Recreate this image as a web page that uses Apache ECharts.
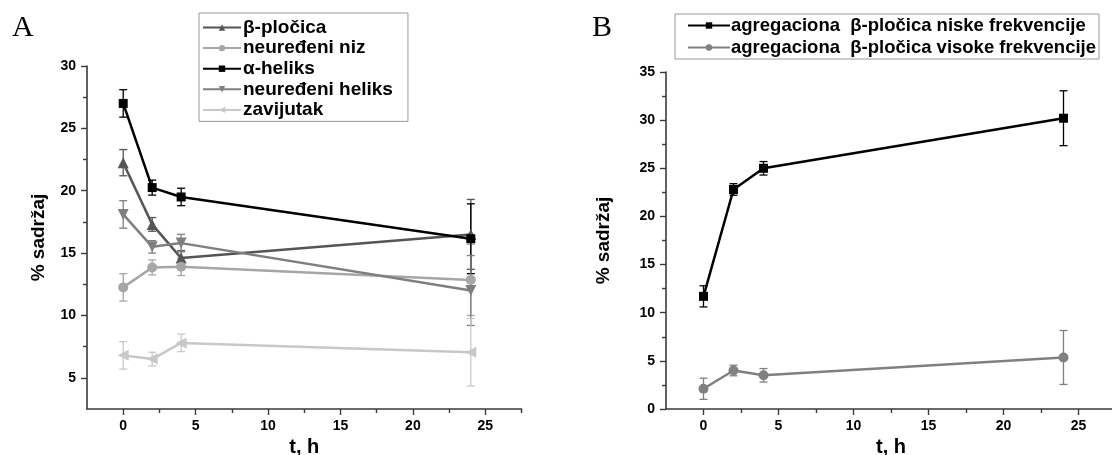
<!DOCTYPE html>
<html><head><meta charset="utf-8">
<script src="https://cdn.jsdelivr.net/npm/echarts@6/dist/echarts.min.js"></script>
<style>html,body{margin:0;padding:0;background:#fff}#c{width:1112px;height:455px}</style>
</head><body><div id="c"></div>
<script>
// ---- Data ----
const tHours = [0, 2, 4, 24];
// Panel A
const betaSheet     = [22.25, 17.3, 14.6, 16.5];
const betaSheetErr  = [1.05, 0.55, 0.6, 2.8];
const randomCoil    = [12.25, 13.85, 13.9, 12.85];
const randomCoilErr = [1.1, 0.6, 0.7, 2.85];
const alphaHelix    = [27.0, 20.25, 19.5, 16.15];
const alphaHelixErr = [1.1, 0.6, 0.7, 2.8];
const disHelix      = [18.1, 15.5, 15.8, 12.0];
const disHelixErr   = [1.1, 0.5, 0.7, 2.8];
const turn          = [6.8, 6.5, 7.8, 7.05];
const turnErr       = [1.1, 0.55, 0.7, 2.7];
// Panel B
const aggLow        = [11.7, 22.8, 25.0, 30.2];
const aggLowErr     = [1.1, 0.6, 0.7, 2.85];
const aggHigh       = [2.1, 4.0, 3.5, 5.35];
const aggHighErr    = [1.1, 0.55, 0.7, 2.8];
// Tick values
const xMajor = [0, 5, 10, 15, 20, 25];
const xMinor = [2.5, 7.5, 12.5, 17.5, 22.5, 27.5];
const yMajorA = [5, 10, 15, 20, 25, 30];
const yMinorA = [7.5, 12.5, 17.5, 22.5, 27.5];
const yMajorB = [0, 5, 10, 15, 20, 25, 30, 35];
const yMinorB = [2.5, 7.5, 12.5, 17.5, 22.5, 27.5, 32.5];

const namesA = ['β-pločica', 'neuređeni niz', 'α-heliks', 'neuređeni heliks', 'zavijutak'];
const namesB = ['agregaciona  β-pločica niske frekvencije', 'agregaciona  β-pločica visoke frekvencije'];

const FONT = '"Liberation Sans", Arial, sans-serif';
const AX = '#3a3a3a';
const GRIDS = [
  {left: 87, top: 66, width: 434.5, height: 343},
  {left: 666, top: 72, width: 450, height: 337}
];

function pairs(v){ return tHours.map((t,i)=>[t, v[i]]); }
function errData(v, e){ return tHours.map((t,i)=>[t, v[i]-e[i], v[i]+e[i]]); }

function errSeries(v, e, color, gi){
  return {
    type: 'custom', xAxisIndex: gi*2, yAxisIndex: gi*2, z: 1, silent: true,
    data: errData(v, e),
    encode: {x: 0, y: [1, 2]},
    renderItem: function(params, api){
      const x = api.value(0), lo = api.value(1), hi = api.value(2);
      const p1 = api.coord([x, hi]), p2 = api.coord([x, lo]);
      const w = 4;
      const st = {stroke: color, lineWidth: 1.3};
      return {type: 'group', children: [
        {type: 'line', shape: {x1: p1[0], y1: p1[1], x2: p2[0], y2: p2[1]}, style: st},
        {type: 'line', shape: {x1: p1[0]-w, y1: p1[1], x2: p1[0]+w, y2: p1[1]}, style: st},
        {type: 'line', shape: {x1: p2[0]-w, y1: p2[1], x2: p2[0]+w, y2: p2[1]}, style: st}
      ]};
    }
  };
}
function lineSeries(name, v, color, symbol, rot, size, gi){
  return {
    name, type: 'line', xAxisIndex: gi*2, yAxisIndex: gi*2, z: 3,
    data: pairs(v), symbol, symbolRotate: rot, symbolSize: size,
    showSymbol: true, animation: false,
    lineStyle: {color, width: 2.5},
    itemStyle: {color, borderWidth: 0}
  };
}

function xAxes(gi, min, max){
  return [
    {gridIndex: gi, type: 'value', min, max, position: 'bottom',
     axisLine: {show: true, onZero: false, lineStyle: {color: AX, width: 1.6}},
     axisTick: {show: true, length: 6, customValues: xMajor, lineStyle: {color: AX, width: 1.4}},
     axisLabel: {show: true, customValues: xMajor, margin: 10, color: '#000', fontFamily: FONT, fontWeight: 'bold', fontSize: 14},
     splitLine: {show: false},
     name: 't, h', nameLocation: 'middle', nameGap: 28,
     nameTextStyle: {color: '#000', fontFamily: FONT, fontWeight: 'bold', fontSize: 20}},
    // minor ticks: placed at top then shifted down onto the bottom edge
    {gridIndex: gi, type: 'value', min, max, position: 'top', offset: -GRIDS[gi].height,
     axisLine: {show: false, onZero: false},
     axisTick: {show: true, inside: true, length: 4, customValues: xMinor, lineStyle: {color: AX, width: 1.4}},
     axisLabel: {show: false}, splitLine: {show: false}}
  ];
}
function yAxes(gi, min, max, major, minor, gap){
  return [
    {gridIndex: gi, type: 'value', min, max, position: 'left',
     axisLine: {show: true, onZero: false, lineStyle: {color: AX, width: 1.6}},
     axisTick: {show: true, length: 6, customValues: major, lineStyle: {color: AX, width: 1.4}},
     axisLabel: {show: true, customValues: major, margin: 11, color: '#000', fontFamily: FONT, fontWeight: 'bold', fontSize: 14},
     splitLine: {show: false},
     name: '% sadržaj', nameLocation: 'middle', nameGap: gap, nameRotate: 90,
     nameTextStyle: {color: '#000', fontFamily: FONT, fontWeight: 'bold', fontSize: 19}},
    {gridIndex: gi, type: 'value', min, max, position: 'right', offset: -GRIDS[gi].width,
     axisLine: {show: false, onZero: false},
     axisTick: {show: true, inside: true, length: 4, customValues: minor, lineStyle: {color: AX, width: 1.4}},
     axisLabel: {show: false}, splitLine: {show: false}}
  ];
}

const cA = ['#555555', '#a6a6a6', '#000000', '#7f7f7f', '#c8c8c8'];
const cB = ['#000000', '#808080'];

const chart = echarts.init(document.getElementById('c'), null, {renderer: 'canvas'});
chart.setOption({
  animation: false,
  backgroundColor: '#fff',
  title: [
    {text: 'A', left: 7, top: 8, textStyle: {fontFamily: '"Liberation Serif", "Times New Roman", serif', fontWeight: 'normal', fontSize: 30, color: '#000'}},
    {text: 'B', left: 587, top: 8, textStyle: {fontFamily: '"Liberation Serif", "Times New Roman", serif', fontWeight: 'normal', fontSize: 30, color: '#000'}}
  ],
  grid: GRIDS.map(g => Object.assign({outerBoundsMode: 'none', containLabel: false}, g)),
  xAxis: [...xAxes(0, -2.5, 27.5), ...xAxes(1, -2.5, 27.5)],
  yAxis: [...yAxes(0, 2.5, 30, yMajorA, yMinorA, 39), ...yAxes(1, 0, 35, yMajorB, yMinorB, 53)],
  legend: [
    {data: namesA, orient: 'vertical', left: 199, top: 13, padding: [5, 15, 2, 3],
     itemGap: 1.6, itemWidth: 38, itemHeight: 8,
     borderColor: '#999', borderWidth: 1, selectedMode: false,
     textStyle: {fontFamily: FONT, fontWeight: 'bold', fontSize: 19, color: '#000', lineHeight: 19, padding: [0,0,0,-3]}},
    {data: namesB, orient: 'vertical', left: 675, top: 14, padding: [2, 3, 2, 12],
     itemGap: 3, itemWidth: 42, itemHeight: 8,
     borderColor: '#999', borderWidth: 1, selectedMode: false,
     textStyle: {fontFamily: FONT, fontWeight: 'bold', fontSize: 18.5, color: '#000', lineHeight: 19, padding: [0,0,0,-4]}}
  ],
  series: [
    errSeries(betaSheet, betaSheetErr, cA[0], 0),
    errSeries(randomCoil, randomCoilErr, cA[1], 0),
    errSeries(alphaHelix, alphaHelixErr, cA[2], 0),
    errSeries(disHelix, disHelixErr, cA[3], 0),
    errSeries(turn, turnErr, cA[4], 0),
    lineSeries(namesA[0], betaSheet, cA[0], 'triangle', 0, 11, 0),
    lineSeries(namesA[1], randomCoil, cA[1], 'circle', 0, 10, 0),
    lineSeries(namesA[2], alphaHelix, cA[2], 'rect', 0, 9, 0),
    lineSeries(namesA[3], disHelix, cA[3], 'triangle', 180, 11, 0),
    lineSeries(namesA[4], turn, cA[4], 'triangle', 90, 11, 0),
    errSeries(aggLow, aggLowErr, cB[0], 1),
    errSeries(aggHigh, aggHighErr, cB[1], 1),
    lineSeries(namesB[0], aggLow, cB[0], 'rect', 0, 9, 1),
    lineSeries(namesB[1], aggHigh, cB[1], 'circle', 0, 10, 1)
  ]
});
</script></body></html>
